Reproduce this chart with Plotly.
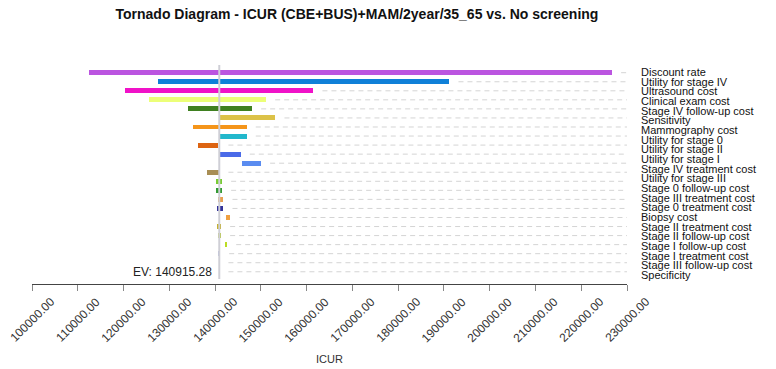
import plotly.graph_objects as go

labels = [
    "Discount rate", "Utility for stage IV", "Ultrasound cost", "Clinical exam cost",
    "Stage IV follow-up cost", "Sensitivity", "Mammography cost", "Utility for stage 0",
    "Utility for stage II", "Utility for stage I", "Stage IV treatment cost",
    "Utility for stage III", "Stage 0 follow-up cost", "Stage III treatment cost",
    "Stage 0 treatment cost", "Biopsy cost", "Stage II treatment cost",
    "Stage II follow-up cost", "Stage I follow-up cost", "Stage I treatment cost",
    "Stage III follow-up cost", "Specificity",
]
low = [112520, 127440, 120320, 125480, 134000, 140915, 135090, 140915,
       136180, 140915, 145800, 138240, 140270, 140270, 140640, 140420,
       142450, 140420, 140710, 142230, 140710, 140915]
high = [226720, 191180, 161460, 151130, 148070, 153160, 146890, 146890,
        140700, 145580, 150030, 140770, 141510, 141510, 141800, 141800,
        143330, 141290, 141290, 142610, 141080, 140915]
colors = ["#bb55e0", "#0f80d8", "#f012c8", "#ecff78", "#3f8020", "#dcc248",
          "#f5951a", "#22b8cc", "#dd6412", "#4a6ae8", "#5a8cf0", "#a88e55",
          "#78cc33", "#339a33", "#e8a050", "#333399", "#f0a040", "#c4b030",
          "#b8c848", "#bbdd22", "#aab0dd", "#ffffff"]
ev = 140915.28
x_min, x_max, x_step = 100000, 230000, 10000
tick_values = list(range(x_min, x_max + 1, x_step))
tick_labels = [f"{v:.2f}" for v in tick_values]

FONT = "Liberation Sans, Arial, sans-serif"
idx = list(range(len(labels)))

fig = go.Figure()

# leader dashed lines (one per row, plus one trailing row)
gap = 2000
dx, dy = [], []
for i in range(len(labels) + 1):
    h = high[i] if i < len(labels) else ev
    dx += [max(h, ev) + gap, x_max, None]
    dy += [i, i, None]
fig.add_trace(go.Scatter(x=dx, y=dy, mode="lines",
                         line=dict(color="#d4d4d4", width=1, dash="5px,4px"),
                         hoverinfo="skip", showlegend=False))

fig.add_trace(go.Bar(
    y=idx, x=[h - l for l, h in zip(low, high)], base=low, orientation="h",
    marker=dict(color=colors, line=dict(width=0)), width=0.55,
    showlegend=False, hoverinfo="skip"))

# invisible trace for the label axis
fig.add_trace(go.Scatter(x=[ev] * len(labels), y=idx, yaxis="y2", mode="markers",
                         marker=dict(opacity=0), showlegend=False, hoverinfo="skip"))

fig.add_shape(type="line", x0=ev, x1=ev, y0=-0.85, y1=len(labels) + 0.8,
              xref="x", yref="y", line=dict(color="#cfcfd6", width=2), layer="above")

fig.add_annotation(x=ev, y=len(labels), xref="x", yref="y", text="EV: 140915.28",
                   showarrow=False, xanchor="right", yanchor="middle", xshift=-5,
                   font=dict(family=FONT, size=12, color="#222"))

# rotated x tick labels, centred under each tick
for v, t in zip(tick_values, tick_labels):
    fig.add_annotation(x=v, y=-0.16, xref="x", yref="paper", text=t, textangle=-45,
                       showarrow=False, xanchor="center", yanchor="middle",
                       font=dict(family=FONT, size=12, color="#333"))

fig.update_layout(
    width=776, height=369,
    margin=dict(l=32, r=149, t=60, b=85),
    paper_bgcolor="white", plot_bgcolor="white",
    font=dict(family=FONT, size=11, color="#222"),
    title=dict(text="<b>Tornado Diagram - ICUR (CBE+BUS)+MAM/2year/35_65 vs. No screening</b>",
               x=0.46, xref="container", xanchor="center",
               y=0.962, yref="container", yanchor="middle",
               font=dict(family=FONT, size=14, color="#111")),
    bargap=0,
    xaxis=dict(range=[x_min, x_max], tickvals=tick_values, showticklabels=False,
               showline=True, linecolor="#444", linewidth=1,
               ticks="outside", ticklen=6, tickcolor="#888",
               showgrid=False, zeroline=False, automargin=False),
    yaxis=dict(range=[23.35, -1.403], visible=False, showgrid=False, zeroline=False),
    yaxis2=dict(overlaying="y", side="right", range=[21.92, -1.241],
                tickvals=idx, ticktext=labels, showgrid=False, zeroline=False,
                showline=False, ticks="", ticklabelstandoff=13, automargin=False,
                tickfont=dict(family=FONT, size=11, color="#111")),
    annotations=list(fig.layout.annotations) + [
        dict(text="ICUR", x=0.5, y=-0.335, xref="paper", yref="paper",
             showarrow=False, xanchor="center", yanchor="middle",
             font=dict(family=FONT, size=11, color="#333"))],
)

fig.write_html("out.html")
